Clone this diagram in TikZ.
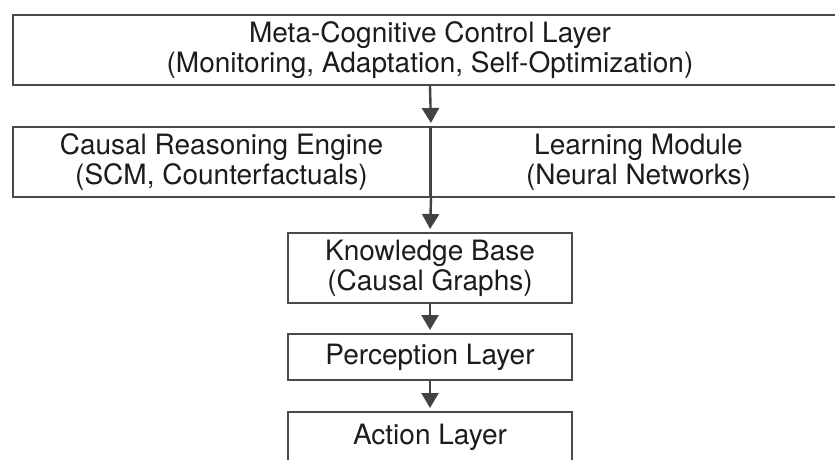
\documentclass[tikz,border=0pt]{standalone}
\usepackage{fontspec}
\setmainfont{TeX Gyre Heros}
\usetikzlibrary{arrows.meta}
\definecolor{boxgray}{HTML}{4A4A4A}
\definecolor{arrgray}{HTML}{3F4247}
\definecolor{txt}{HTML}{1C1C1C}
\begin{document}
\begin{tikzpicture}[x=1pt,y=-1pt,
  box/.style={draw=boxgray, line width=2pt, fill=white, inner sep=0pt,
    font=\fontsize{28}{30}\selectfont, align=center, text=txt},
  arr/.style={draw=arrgray, line width=2.4pt,
    -{Triangle[width=17pt,length=15pt]}, shorten >=3pt},
  divider/.style={draw=arrgray, line width=2.4pt}]
\clip (0,0) rectangle (835,460);
\fill[white] (0,0) rectangle (835,460);
% top layer
\node[box, minimum width=834pt, minimum height=70pt] (meta) at (430,50)
  {Meta-Cognitive Control Layer\\(Monitoring, Adaptation, Self-Optimization)};
% middle row
\node[box, minimum width=417pt, minimum height=70pt] (causal) at (221.5,162)
  {Causal Reasoning Engine\\(SCM, Counterfactuals)};
\node[box, minimum width=417pt, minimum height=70pt] (learn) at (638.5,162)
  {Learning Module\\(Neural Networks)};
% lower stack
\node[box, minimum width=284pt, minimum height=70pt] (kb) at (430,268)
  {Knowledge Base\\(Causal Graphs)};
\node[box, minimum width=284pt, minimum height=46pt] (perc) at (430,357)
  {Perception Layer};
\node[box, minimum width=284pt, minimum height=50pt] (act) at (430,437)
  {Action Layer};
% connectors
\draw[divider] (causal.north east) -- (causal.south east);
\draw[arr] (meta.south) -- (causal.north east);
\draw[arr] (causal.south east) -- (kb.north);
\draw[arr] (kb.south) -- (perc.north);
\draw[arr] (perc.south) -- (act.north);
\end{tikzpicture}
\end{document}
